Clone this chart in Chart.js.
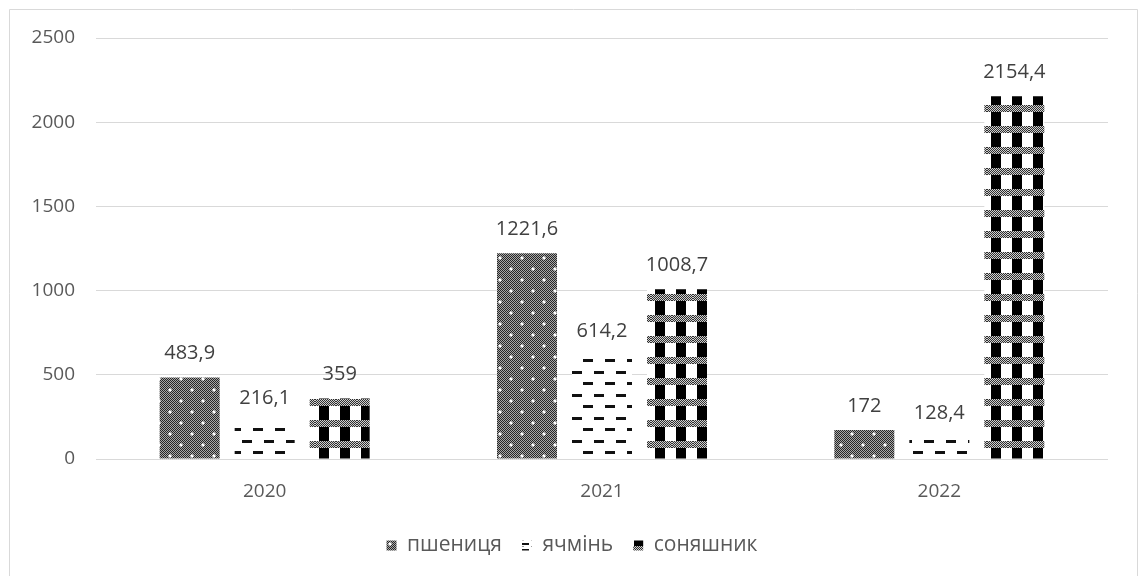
<!DOCTYPE html>
<html>
<head>
<meta charset="utf-8">
<script src="https://cdn.jsdelivr.net/npm/chart.js@4.4.1/dist/chart.umd.min.js"></script>
<style>
  html, body { margin: 0; padding: 0; background: #fff; }
  #wrap { position: relative; width: 1139px; height: 576px; }
  canvas { display: block; }
</style>
</head>
<body>
<div id="wrap"><canvas id="chart" width="1139" height="576"></canvas></div>
<script>
// Harvest by crop and year
const years = ['2020', '2021', '2022'];
const seriesNames = ['пшениця', 'ячмінь', 'соняшник'];
const wheat = [483.9, 1221.6, 172];
const barley = [216.1, 614.2, 128.4];
const sunflower = [359, 1008.7, 2154.4];
const yTicks = [0, 500, 1000, 1500, 2000, 2500];

const FONT = '"Open Sans", "Noto Sans", sans-serif';

// ---- fill patterns ----
function makeTile(w, h, draw) {
  const c = document.createElement('canvas');
  c.width = w; c.height = h;
  const g = c.getContext('2d');
  draw(g, w, h);
  return c;
}
function checker(g, x0, y0, w, h, dark, light) {
  for (let y = y0; y < y0 + h; y++) {
    for (let x = x0; x < x0 + w; x++) {
      g.fillStyle = ((x + y) % 2 === 0) ? dark : light;
      g.fillRect(x, y, 1, 1);
    }
  }
}
function whiteDot(g, cx, cy) {
  g.fillStyle = '#ffffff';
  g.fillRect(cx - 1, cy - 1, 2, 2);
  g.fillRect(cx - 2, cy - 0.5, 4, 1);
  g.fillRect(cx - 0.5, cy - 2, 1, 4);
}
const pctx = document.createElement('canvas').getContext('2d');

const wheatTile = makeTile(22, 22, (g, w, h) => {
  checker(g, 0, 0, w, h, '#262626', '#a8a8a8');
  whiteDot(g, 5, 5);
  whiteDot(g, 16, 16);
});
const barleyTile = makeTile(22, 23, (g, w, h) => {
  g.fillStyle = '#ffffff'; g.fillRect(0, 0, w, h);
  g.fillStyle = '#111111';
  g.fillRect(0, 3, 10, 3);
  g.fillRect(11, 14, 10, 3);
});
const sunTile = makeTile(21, 21, (g, w, h) => {
  g.fillStyle = '#ffffff'; g.fillRect(0, 0, w, h);
  g.fillStyle = '#000000'; g.fillRect(4, 0, 10, h);
  checker(g, 0, 0, w, 7, '#2e2e2e', '#d0d0d0');
});
// compact dash swatch so the small legend box always shows a dash
const barleyKeyTile = makeTile(10, 6, (g, w, h) => {
  g.fillStyle = '#ffffff'; g.fillRect(0, 0, w, h);
  g.fillStyle = '#9a9a9a'; g.fillRect(1, 0, 3, 1);
  g.fillStyle = '#111111'; g.fillRect(2, 3, 7, 2);
});
const patterns = [
  pctx.createPattern(wheatTile, 'repeat'),
  pctx.createPattern(barleyTile, 'repeat'),
  pctx.createPattern(sunTile, 'repeat')
];
const keyPatterns = [patterns[0], pctx.createPattern(barleyKeyTile, 'repeat'), patterns[2]];

// ---- plugins ----
const frame = {
  id: 'frame',
  beforeDraw(chart) {
    const { ctx, width, height } = chart;
    ctx.save();
    ctx.fillStyle = '#ffffff';
    ctx.fillRect(0, 0, width, height);
    ctx.strokeStyle = '#d9d9d9';
    ctx.lineWidth = 1;
    ctx.beginPath();
    ctx.moveTo(9.5, height + 2);
    ctx.lineTo(9.5, 9.5);
    ctx.lineTo(1137.5, 9.5);
    ctx.lineTo(1137.5, height + 2);
    ctx.stroke();
    ctx.restore();
  }
};

// centre the legend on the whole frame rather than on the plot
const legendShift = {
  id: 'legendShift',
  afterLayout(chart) {
    if (chart.legend) {
      chart.legend.left += 18;
      chart.legend.right += 18;
    }
  }
};

const valueLabels = {
  id: 'valueLabels',
  afterDatasetsDraw(chart) {
    const { ctx } = chart;
    ctx.save();
    ctx.font = '20px ' + FONT;
    ctx.fillStyle = '#404040';
    ctx.textAlign = 'center';
    ctx.textBaseline = 'middle';
    chart.data.datasets.forEach((ds, i) => {
      chart.getDatasetMeta(i).data.forEach((bar, j) => {
        const txt = String(ds.data[j]).replace('.', ',');
        ctx.fillText(txt, bar.x, bar.y - 24);
      });
    });
    ctx.restore();
  }
};

const seriesData = [wheat, barley, sunflower];

new Chart(document.getElementById('chart'), {
  type: 'bar',
  data: {
    labels: years,
    datasets: seriesNames.map((name, i) => ({
      label: name,
      data: seriesData[i],
      backgroundColor: patterns[i],
      borderWidth: 0,
      categoryPercentage: 0.667,
      barPercentage: 0.8
    }))
  },
  options: {
    responsive: false,
    animation: false,
    devicePixelRatio: 1,
    layout: { padding: { left: 0, right: 31, top: 38, bottom: 10 } },
    plugins: {
      legend: {
        position: 'bottom',
        labels: {
          boxWidth: 10,
          boxHeight: 10,
          padding: 20,
          color: '#595959',
          font: { family: FONT, size: 21 },
          generateLabels(chart) {
            return chart.data.datasets.map((ds, i) => ({
              text: ds.label,
              fillStyle: keyPatterns[i],
              strokeStyle: 'rgba(0,0,0,0)',
              lineWidth: 0,
              fontColor: '#595959',
              hidden: !chart.isDatasetVisible(i),
              datasetIndex: i
            }));
          }
        }
      },
      tooltip: { enabled: false }
    },
    scales: {
      x: {
        grid: { display: false, drawTicks: false },
        border: { display: false },
        ticks: { color: '#595959', font: { family: FONT, size: 19 }, padding: 21 },
        afterFit(scale) { scale.height = 56; }
      },
      y: {
        min: yTicks[0],
        max: yTicks[yTicks.length - 1],
        afterBuildTicks(scale) { scale.ticks = yTicks.map(v => ({ value: v })); },
        grid: { color: '#d9d9d9', lineWidth: 1, drawTicks: false },
        border: { display: false },
        ticks: {
          color: '#595959',
          font: { family: FONT, size: 19 },
          padding: 21,
          callback: v => String(v)
        },
        afterFit(scale) { scale.width = 96; }
      }
    }
  },
  plugins: [frame, legendShift, valueLabels]
});
</script>
</body>
</html>
